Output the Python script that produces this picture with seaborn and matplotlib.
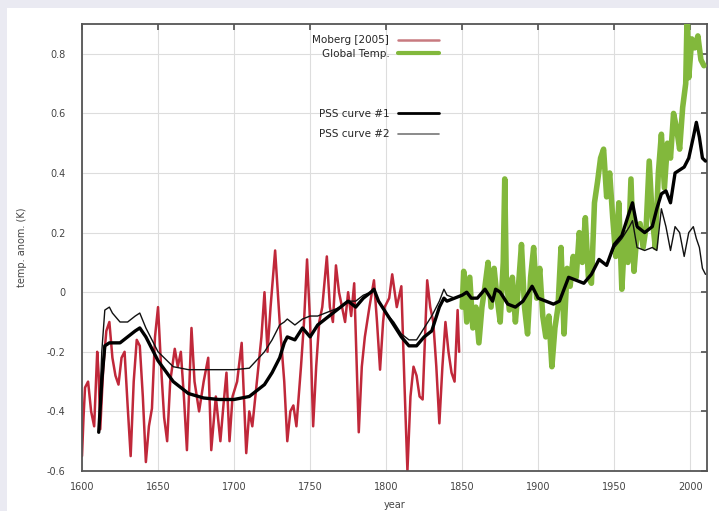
import matplotlib
matplotlib.use("Agg")
import matplotlib.pyplot as plt
from matplotlib.patches import Rectangle
from matplotlib.lines import Line2D
import pandas as pd
import seaborn as sns

# Moberg [2005] reconstruction
moberg_year = [1600, 1601, 1602, 1604, 1606, 1608, 1610, 1611, 1612, 1614, 1616, 1618, 1620, 1622,
               1624, 1626, 1628, 1630, 1632, 1634, 1636, 1638, 1640, 1642, 1644, 1646, 1648, 1650,
               1652, 1654, 1656, 1658, 1661, 1663, 1665, 1667, 1669, 1672, 1674, 1677, 1680, 1683,
               1685, 1688, 1691, 1693, 1695, 1697, 1699, 1702, 1705, 1708, 1710, 1712, 1715, 1718,
               1720, 1722, 1724, 1727, 1730, 1733, 1735, 1737, 1739, 1741, 1744, 1746, 1748, 1750,
               1752, 1754, 1756, 1758, 1761, 1763, 1765, 1767, 1769, 1771, 1773, 1775, 1777, 1779,
               1782, 1784, 1786, 1789, 1792, 1794, 1796, 1798, 1799, 1802, 1804, 1807, 1810, 1812,
               1814, 1816, 1818, 1820, 1822, 1824, 1827, 1829, 1831, 1833, 1835, 1837, 1839, 1841,
               1843, 1845, 1847, 1848]
moberg_temp = [-0.55, -0.42, -0.32, -0.30, -0.40, -0.45, -0.20, -0.28, -0.46, -0.25, -0.13, -0.10, -0.22, -0.28,
               -0.31, -0.22, -0.20, -0.38, -0.55, -0.30, -0.16, -0.18, -0.35, -0.57, -0.45, -0.39, -0.15, -0.05,
               -0.25, -0.42, -0.50, -0.30, -0.19, -0.25, -0.20, -0.35, -0.53, -0.12, -0.30, -0.40, -0.30, -0.22,
               -0.53, -0.35, -0.50, -0.38, -0.27, -0.50, -0.35, -0.30, -0.17, -0.54, -0.40, -0.45, -0.30, -0.15,
               0.00, -0.20, -0.05, 0.14, -0.10, -0.30, -0.50, -0.40, -0.38, -0.45, -0.25, -0.10, 0.11, -0.10,
               -0.45, -0.25, -0.10, -0.05, 0.12, -0.05, -0.10, 0.09, 0.00, -0.05, -0.10, 0.00, -0.08, 0.03,
               -0.47, -0.25, -0.15, -0.05, 0.04, -0.10, -0.26, -0.10, -0.05, -0.02, 0.06, -0.05, 0.02, -0.30,
               -0.60, -0.35, -0.25, -0.28, -0.35, -0.36, 0.04, -0.05, -0.10, -0.25, -0.44, -0.25, -0.10, -0.20,
               -0.27, -0.30, -0.06, -0.20]

# global temperature record
glob_year = [1850, 1851, 1853, 1855, 1857, 1859, 1861, 1863, 1865, 1867, 1869, 1871, 1873, 1875,
             1877, 1878, 1879, 1881, 1883, 1885, 1887, 1889, 1891, 1893, 1895, 1897, 1899, 1901,
             1903, 1905, 1907, 1909, 1911, 1913, 1915, 1917, 1919, 1921, 1923, 1925, 1927, 1929,
             1931, 1933, 1935, 1937, 1939, 1941, 1943, 1945, 1947, 1949, 1951, 1953, 1955, 1957,
             1959, 1961, 1963, 1965, 1967, 1969, 1971, 1973, 1975, 1977, 1979, 1981, 1983, 1985,
             1987, 1989, 1991, 1993, 1995, 1997, 1998, 1999, 2001, 2003, 2005, 2007, 2009]
glob_temp = [-0.05, 0.07, -0.10, 0.05, -0.12, -0.05, -0.17, -0.05, 0.02, 0.10, -0.05, 0.08, -0.02, -0.10,
             0.10, 0.38, 0.05, -0.06, 0.05, -0.10, 0.02, 0.16, -0.05, -0.14, 0.05, 0.15, -0.02, 0.08,
             -0.08, -0.15, -0.08, -0.25, -0.12, -0.05, 0.15, -0.14, 0.08, 0.02, 0.12, 0.05, 0.20, 0.10,
             0.25, 0.05, 0.03, 0.30, 0.37, 0.45, 0.48, 0.32, 0.40, 0.25, 0.12, 0.30, 0.01, 0.20,
             0.10, 0.38, 0.07, 0.20, 0.23, 0.15, 0.22, 0.44, 0.25, 0.15, 0.40, 0.53, 0.35, 0.50,
             0.45, 0.60, 0.55, 0.48, 0.62, 0.70, 0.95, 0.72, 0.85, 0.82, 0.86, 0.78, 0.76]

# PSS curves
pss_year = [1611, 1613, 1615, 1618, 1620, 1625, 1630, 1635, 1638, 1642, 1650, 1660, 1670, 1680,
            1690, 1700, 1710, 1720, 1725, 1730, 1733, 1735, 1740, 1745, 1750, 1755, 1760, 1765,
            1770, 1775, 1780, 1785, 1790, 1792, 1795, 1800, 1805, 1810, 1815, 1820, 1825, 1830,
            1835, 1838, 1840, 1845, 1850, 1853, 1856, 1860, 1865, 1870, 1872, 1875, 1880, 1885,
            1890, 1896, 1900, 1905, 1910, 1914, 1920, 1925, 1930, 1935, 1940, 1945, 1950, 1955,
            1960, 1962, 1965, 1970, 1975, 1978, 1981, 1984, 1987, 1990, 1993, 1996, 1999, 2002,
            2004, 2006, 2008, 2010]
pss1_temp = [-0.47, -0.30, -0.18, -0.17, -0.17, -0.17, -0.15, -0.13, -0.12, -0.15, -0.23, -0.30, -0.34, -0.355,
             -0.36, -0.36, -0.35, -0.31, -0.27, -0.22, -0.17, -0.15, -0.16, -0.12, -0.15, -0.11, -0.09, -0.07,
             -0.05, -0.03, -0.05, -0.02, 0.00, 0.01, -0.03, -0.07, -0.11, -0.15, -0.18, -0.18, -0.15, -0.13,
             -0.05, -0.02, -0.03, -0.02, -0.01, 0.00, -0.02, -0.02, 0.01, -0.03, 0.01, 0.00, -0.04, -0.05,
             -0.03, 0.02, -0.02, -0.03, -0.04, -0.03, 0.05, 0.04, 0.03, 0.06, 0.11, 0.09, 0.16, 0.19,
             0.27, 0.30, 0.22, 0.20, 0.22, 0.28, 0.33, 0.34, 0.30, 0.40, 0.41, 0.42, 0.45, 0.52,
             0.57, 0.52, 0.45, 0.44]
pss2_temp = [-0.47, -0.20, -0.06, -0.05, -0.07, -0.10, -0.10, -0.08, -0.07, -0.12, -0.20, -0.25, -0.26, -0.26,
             -0.26, -0.26, -0.255, -0.20, -0.16, -0.11, -0.10, -0.09, -0.11, -0.09, -0.08, -0.08, -0.07, -0.06,
             -0.05, -0.03, -0.03, -0.01, 0.00, 0.01, -0.03, -0.07, -0.10, -0.14, -0.16, -0.16, -0.12, -0.08,
             -0.03, 0.01, -0.01, -0.02, -0.01, 0.00, -0.02, -0.02, 0.01, -0.03, 0.01, 0.00, -0.04, -0.05,
             -0.03, 0.02, -0.02, -0.03, -0.04, -0.03, 0.05, 0.04, 0.03, 0.06, 0.11, 0.09, 0.15, 0.18,
             0.22, 0.24, 0.15, 0.14, 0.15, 0.14, 0.28, 0.22, 0.14, 0.22, 0.20, 0.12, 0.20, 0.22,
             0.18, 0.15, 0.08, 0.06]

moberg = pd.DataFrame({"year": moberg_year, "temp": moberg_temp})
glob = pd.DataFrame({"year": glob_year, "temp": glob_temp})
pss = pd.DataFrame({"year": pss_year, "pss1": pss1_temp, "pss2": pss2_temp})

sns.set_theme(style="white")
plt.rcParams['font.family'] = ['DejaVu Sans']

red = "#c0283a"
green = "#82b83c"

fig = plt.figure(figsize=(7.19, 5.11), dpi=100, facecolor="#eaeaf2")
fig.patches.append(Rectangle((7/719, 0), 1, 1 - 8/511, transform=fig.transFigure,
                             facecolor="white", edgecolor="none", zorder=-5))
ax = fig.add_axes([82/719, 40/511, 625/719, 447/511])
ax.set_zorder(2)

sns.lineplot(data=moberg, x="year", y="temp", ax=ax, color=red, lw=1.8,
             estimator=None, sort=False, zorder=2)
sns.lineplot(data=glob, x="year", y="temp", ax=ax, color=green, lw=4,
             estimator=None, sort=False, zorder=3)
sns.lineplot(data=pss, x="year", y="pss2", ax=ax, color="#111111", lw=1.0,
             estimator=None, sort=False, zorder=4)
sns.lineplot(data=pss, x="year", y="pss1", ax=ax, color="black", lw=2.4,
             estimator=None, sort=False, zorder=5)

ax.set_xlim(1600, 2011)
ax.set_ylim(-0.6, 0.9)
ax.set_xticks([1600, 1650, 1700, 1750, 1800, 1850, 1900, 1950, 2000])
ax.set_yticks([-0.6, -0.4, -0.2, 0, 0.2, 0.4, 0.6, 0.8])
ax.set_yticklabels(["-0.6", "-0.4", "-0.2", "0", "0.2", "0.4", "0.6", "0.8"])
ax.grid(True, color="#dddddd", lw=0.8)
ax.tick_params(direction="in", length=4, top=True, right=True, labelsize=7,
               colors="#555555", labelcolor="#444444", pad=8)
ax.tick_params(axis="y", pad=12)
for s in ax.spines.values():
    s.set_color("#555555")
    s.set_linewidth(1.3)
ax.set_xlabel("year", fontsize=7, color="#444444", labelpad=6)
ax.set_ylabel("temp. anom. (K)", fontsize=7, color="#444444", labelpad=14)

h1 = [Line2D([], [], color="#c87a80", lw=1.8), Line2D([], [], color=green, lw=3)]
leg1 = ax.legend(h1, ["Moberg [2005]", "Global Temp."], loc="upper right",
                 bbox_to_anchor=(0.58, 0.986), frameon=False, markerfirst=False,
                 fontsize=7.5, handlelength=4, labelspacing=0.35, borderpad=0)
ax.add_artist(leg1)
h2 = [Line2D([], [], color="black", lw=2), Line2D([], [], color="#777777", lw=1.2)]
ax.legend(h2, ["PSS curve #1", "PSS curve #2"], loc="upper right",
          bbox_to_anchor=(0.58, 0.822), frameon=False, markerfirst=False,
          fontsize=7.5, handlelength=4, labelspacing=1.0, borderpad=0)

fig.savefig("out.png", dpi=100, facecolor=fig.get_facecolor())
